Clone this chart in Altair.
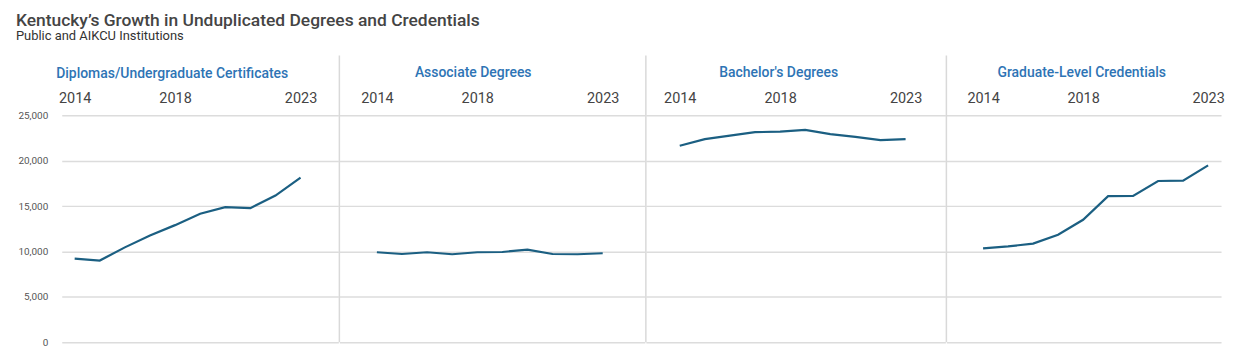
import altair as alt
import pandas as pd

years = [2014, 2015, 2016, 2017, 2018, 2019, 2020, 2021, 2022, 2023]
diplomas = [9210, 9000, 10450, 11770, 12900, 14150, 14880, 14770, 16160, 18130]
associate = [9910, 9720, 9910, 9690, 9910, 9940, 10200, 9720, 9690, 9800]
bachelors = [21640, 22370, 22770, 23140, 23210, 23390, 22920, 22620, 22260, 22370]
graduate = [10340, 10560, 10860, 11840, 13490, 16090, 16120, 17760, 17800, 19490]

panel_titles = ["Diplomas/Undergraduate Certificates", "Associate Degrees",
                "Bachelor's Degrees", "Graduate-Level Credentials"]
series = [diplomas, associate, bachelors, graduate]
tick_years = [2014, 2018, 2023]
y_ticks = [0, 5000, 10000, 15000, 20000, 25000]

widths = [278, 307, 301, 276]
x_domains = [[2013.485, 2024.507], [2012.505, 2024.68], [2012.65, 2024.586], [2012.533, 2023.517]]
title_dx = [-28, -19, -17, -2]

H = 228
LINE = "#1b5f82"
TITLE_BLUE = "#2e74b5"
GRID = "#dcdcdc"
FONT = "Roboto"

panels = []
for i, (t, vals) in enumerate(zip(panel_titles, series)):
    df = pd.DataFrame({"Year": years, "Value": vals})
    if i == 0:
        yaxis = alt.Axis(values=y_ticks, format=",d", labelFontSize=10, labelColor="#555",
                         labelPadding=14, ticks=False, domain=False, title=None,
                         gridColor=GRID, gridWidth=1.5, labelFont=FONT)
    else:
        yaxis = alt.Axis(values=y_ticks, labels=False, ticks=False, domain=False, title=None,
                         gridColor=GRID, gridWidth=1.5)
    xaxis = alt.Axis(orient="top", values=tick_years, format="d", labelFontSize=14.5,
                     labelColor="#444", labelPadding=10, ticks=False, domain=False,
                     grid=False, title=None, labelFont=FONT, labelFlush=False)
    base = alt.Chart(df)
    line = base.mark_line(color=LINE, strokeWidth=2.2).encode(
        x=alt.X("Year:Q", scale=alt.Scale(domain=x_domains[i], nice=False, zero=False), axis=xaxis),
        y=alt.Y("Value:Q", scale=alt.Scale(domain=[0, 25000], nice=False), axis=yaxis),
    )
    sep = alt.Chart(pd.DataFrame({"s": [0]})).mark_rule(
        color="#d9d9d9", strokeWidth=1.5, strokeOpacity=(0 if i == 0 else 1)
    ).encode(x=alt.value(0), y=alt.value(-60), y2=alt.value(H))
    p = alt.layer(line, sep).properties(
        width=widths[i], height=H,
        title=alt.TitleParams(t, fontSize=14, color=TITLE_BLUE, font=FONT, fontWeight=500,
                              anchor="middle", offset=-25, dx=title_dx[i]),
    )
    panels.append(p)

chart = alt.hconcat(*panels, spacing=0).properties(
    title=alt.TitleParams(
        "Kentucky\u2019s Growth in Unduplicated Degrees and Credentials",
        subtitle="Public and AIKCU Institutions",
        anchor="start", fontSize=17.5, font=FONT, fontWeight=500, color="#444",
        subtitleFontSize=13, subtitleFont=FONT, subtitleColor="#333", subtitlePadding=1,
        offset=12, dx=-2,
    ),
    padding={"left": 7, "top": 2, "right": 3, "bottom": 5},
).configure_view(stroke=None).configure_concat(spacing=0)

chart.save("out.html", embed_options={"renderer": "svg", "actions": False})
